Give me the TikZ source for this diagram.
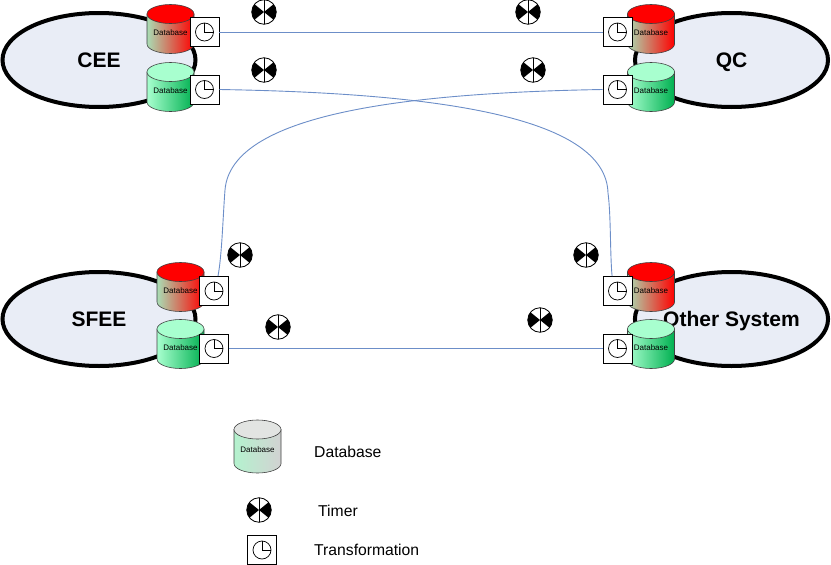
\documentclass[tikz,border=0pt]{standalone}
\usepackage{fontspec}
\setmainfont{Liberation Sans}
\usetikzlibrary{shapes.geometric}
\definecolor{sysfill}{HTML}{E9EDF6}
\definecolor{linkblue}{HTML}{6C8EC8}
\definecolor{redtop}{HTML}{FF0000}
\definecolor{redleft}{HTML}{A9DDB4}
\definecolor{greentop}{HTML}{A8FFCF}
\definecolor{greenright}{HTML}{00B050}
\definecolor{keytop}{HTML}{E2E4E2}
\definecolor{keyleft}{HTML}{B4F2CE}
\definecolor{keyright}{HTML}{D2D2D2}
\tikzset{
  sysnode/.style={ellipse,draw,line width=4pt,fill=sysfill,minimum width=193pt,minimum height=94pt,inner sep=0pt,text height=15pt,text depth=0pt,font=\fontsize{21}{21}\selectfont\bfseries},
  link/.style={draw=linkblue,line width=0.9pt},
  dblabel/.style={font=\fontsize{8}{8}\selectfont,inner sep=0pt},
  keylabel/.style={font=\fontsize{15.7}{16}\selectfont,anchor=west,inner sep=0pt},
  clockbox/.style={rectangle,draw,fill=white,line width=0.7pt,minimum size=29pt,inner sep=0pt,
    path picture={
      \coordinate (c) at (path picture bounding box.center);
      \draw[line width=0.7pt] (c) circle (9pt);
      \draw[line width=0.7pt] ([yshift=9pt]c) -- (c) -- ([xshift=9pt]c);
    }},
  timer/.style={circle,draw,fill=white,line width=0.8pt,minimum size=24.5pt,inner sep=0pt,
    path picture={
      \coordinate (c) at (path picture bounding box.center);
      \fill[black] (c) -- ([shift={(-16pt,13pt)}]c) -- ([shift={(-16pt,-13pt)}]c) -- cycle;
      \fill[black] (c) -- ([shift={(16pt,13pt)}]c) -- ([shift={(16pt,-13pt)}]c) -- cycle;
      \draw[line width=0.8pt] ([yshift=13pt]c) -- ([yshift=-13pt]c);
    }}
}
% centre x, top y, height, left colour, right colour, top colour, node name
\newcommand{\dbcyl}[7]{
  \path[left color=#4,right color=#5,draw=black!75,line width=0.6pt]
    ([xshift=-23.5pt]#1,#2) -- ([xshift=-23.5pt]#1,#2+#3)
    arc[start angle=180,end angle=360,x radius=23.5pt,y radius=9.5pt]
    -- ([xshift=23.5pt]#1,#2) -- cycle;
  \path[fill=#6,draw=black!75,line width=0.6pt] (#1,#2) ellipse[x radius=23.5pt,y radius=9.5pt];
  \node[dblabel] (#7) at (#1,#2+#3*0.5+3.5) {Database};
}
\begin{document}
\begin{tikzpicture}[x=1pt,y=-1pt]
  \useasboundingbox (0,0) rectangle (831,565);
  % systems
  \node[sysnode] (cee) at (99,60) {CEE};
  \node[sysnode] (qc) at (731.5,60) {QC};
  \node[sysnode] (sfee) at (99,319) {SFEE};
  \node[sysnode] (other) at (731.5,319) {Other System};
  % databases
  \foreach \x/\y/\n in {170.5/14/cee,651/14/qc,180.5/272/sfee,651/272/other}{
    \dbcyl{\x}{\y}{30}{redleft}{redtop}{redtop}{\n dbr}
  }
  \foreach \x/\y/\n in {170.5/72/cee,651/72/qc,180.5/329/sfee,651/329/other}{
    \dbcyl{\x}{\y}{30}{greentop}{greenright}{greentop}{\n dbg}
  }
  % transformations
  \node[clockbox] (ceer) at (204.5,32) {};
  \node[clockbox] (ceeg) at (204.5,89.5) {};
  \node[clockbox] (qcr) at (617.5,32) {};
  \node[clockbox] (qcg) at (617.5,89.5) {};
  \node[clockbox] (sfeer) at (214,291) {};
  \node[clockbox] (sfeeg) at (214,348.5) {};
  \node[clockbox] (otherr) at (617.5,291) {};
  \node[clockbox] (otherg) at (617.5,348.5) {};
  % links
  \draw[link] (ceer) -- (qcr);
  \draw[link] (sfeeg) -- (otherg);
  \draw[link] (ceeg.east) .. controls (430,93) and (606,115) .. (608,193) .. controls (611,215) and (610,255) .. (otherr.110);
  \draw[link] (qcg.west) .. controls (400,93) and (231,115) .. (225,190) .. controls (223,215) and (222,255) .. (sfeer.75);
  % timers
  \node[timer] (t1) at (264,12) {};
  \node[timer] (t2) at (264,70) {};
  \node[timer] (t3) at (528,12) {};
  \node[timer] (t4) at (533,70) {};
  \node[timer] (t5) at (240,255) {};
  \node[timer] (t6) at (278,327) {};
  \node[timer] (t7) at (586,255) {};
  \node[timer] (t8) at (540,320) {};
  % key
  \dbcyl{257.5}{429.5}{34}{keyleft}{keyright}{keytop}{keydb}
  \node[timer] (keytimer) at (259,510) {};
  \node[clockbox] (keyclock) at (262,550) {};
  \node[keylabel] (keydbtext) at (314,451.5) {Database};
  \node[keylabel] (keytimertext) at (318,511) {Timer};
  \node[keylabel] (keyclocktext) at (314,549.5) {Transformation};
\end{tikzpicture}
\end{document}
